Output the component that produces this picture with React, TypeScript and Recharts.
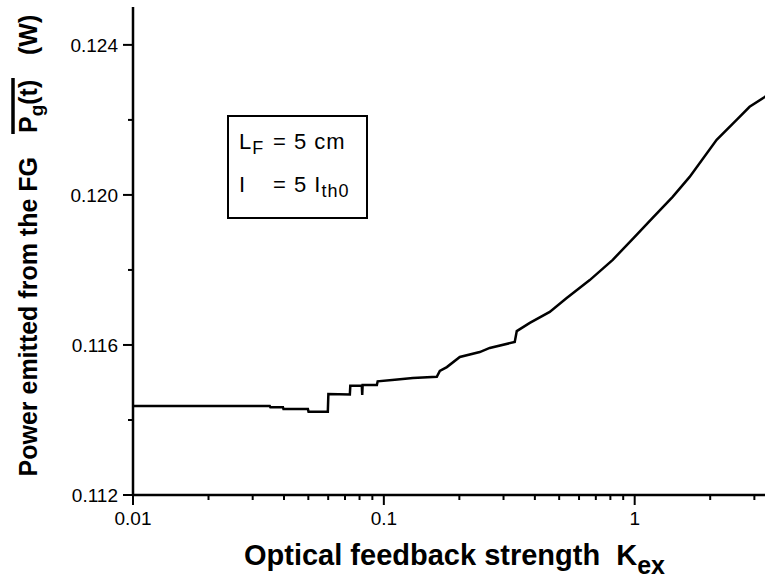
import { LineChart, Line, XAxis, YAxis, Label } from "recharts";

// feedback strength K_ex (log axis) and mean emitted power (W)
const kex = [
  0.01, 0.0351, 0.0353, 0.0396, 0.0398, 0.0498, 0.0501, 0.0598, 0.0601, 0.0732,
  0.0735, 0.0817, 0.082, 0.0823, 0.0938, 0.0945, 0.1106, 0.1305, 0.1626, 0.1672,
  0.1783, 0.2009, 0.2412, 0.2643, 0.3325, 0.3388, 0.3819, 0.4585, 0.5358, 0.662,
  0.8176, 1.0, 1.179, 1.417, 1.656, 2.122, 2.549, 2.871, 3.3, 3.4,
];
const power = [
  0.11437, 0.11437, 0.11434, 0.11434, 0.11429, 0.11429, 0.11422, 0.11422, 0.11469, 0.11468,
  0.11491, 0.11491, 0.11467, 0.11493, 0.11493, 0.11503, 0.11507, 0.11512, 0.11515, 0.11531,
  0.11541, 0.11568, 0.11581, 0.11592, 0.11608, 0.11637, 0.11659, 0.11688, 0.11725, 0.11773,
  0.11827, 0.11888, 0.11939, 0.11995, 0.12048, 0.12147, 0.122, 0.12235, 0.12261, 0.12268,
];

const xTicks = [
  0.01, 0.02, 0.03, 0.04, 0.05, 0.06, 0.07, 0.08, 0.09,
  0.1, 0.2, 0.3, 0.4, 0.5, 0.6, 0.7, 0.8, 0.9, 1, 2, 3,
];
const xMajor = [0.01, 0.1, 1];
const yTicks = [0.112, 0.114, 0.116, 0.118, 0.12, 0.122, 0.124];
const yMajor = [0.112, 0.116, 0.12, 0.124];

const data = kex.map((k, i) => ({ k, p: power[i] }));

const FONT = '"Liberation Sans", Arial, Helvetica, sans-serif';

function BottomTick(props: any) {
  const { x, y, payload } = props;
  const major = xMajor.includes(payload.value);
  return (
    <g>
      <line x1={x} x2={x} y1={y} y2={y + (major ? 10 : 5)} stroke="#000" strokeWidth={2} />
      {major && (
        <text x={x} y={y + 30} textAnchor="middle" fontSize={19} fontFamily={FONT} fill="#000">
          {String(payload.value)}
        </text>
      )}
    </g>
  );
}

function TopTick(props: any) {
  const { x, y, payload } = props;
  const major = xMajor.includes(payload.value);
  return <line x1={x} x2={x} y1={y} y2={y + (major ? 10 : 5)} stroke="#000" strokeWidth={2} />;
}

function LeftTick(props: any) {
  const { x, y, payload } = props;
  const major = yMajor.includes(payload.value);
  return (
    <g>
      <line x1={x - (major ? 10 : 5)} x2={x} y1={y} y2={y} stroke="#000" strokeWidth={2} />
      {major && (
        <text x={x - 15} y={y + 7} textAnchor="end" fontSize={19} fontFamily={FONT} fill="#000">
          {payload.value.toFixed(3)}
        </text>
      )}
    </g>
  );
}

function RightTick(props: any) {
  const { x, y, payload } = props;
  const major = yMajor.includes(payload.value);
  return <line x1={x - (major ? 10 : 5)} x2={x} y1={y} y2={y} stroke="#000" strokeWidth={2} />;
}

function XTitle(props: any) {
  const vb = props.viewBox;
  return (
    <text
      x={vb.x + vb.width / 2 + 4}
      y={vb.y + 70}
      textAnchor="middle"
      fontSize={29}
      fontWeight="bold"
      fontFamily={FONT}
      fill="#000"
      style={{ whiteSpace: "pre" }}
    >
      {"Optical feedback strength  K"}
      <tspan fontSize={25} dy={9}>ex</tspan>
    </text>
  );
}

function YTitle(props: any) {
  const vb = props.viewBox;
  const cx = vb.x + 37;
  const cy = vb.y + vb.height / 2;
  const common = {
    y: cy,
    fontSize: 25,
    fontWeight: "bold",
    fontFamily: FONT,
    fill: "#000",
  };
  return (
    <g transform={`rotate(-90 ${cx} ${cy})`}>
      <text {...common} x={cx + 94} textAnchor="end">
        Power emitted from the FG
      </text>
      <text {...common} x={cx + 118} textAnchor="start">
        P<tspan fontSize={19} dy={6}>g</tspan>
        <tspan dy={-6}>(t)</tspan>
      </text>
      <line x1={cx + 117} x2={cx + 173} y1={cy - 24} y2={cy - 24} stroke="#000" strokeWidth={3.5} />
      <text {...common} x={cx + 196} textAnchor="start">
        (W)
      </text>
    </g>
  );
}

export default function App() {
  return (
    <div
      style={{
        position: "fixed",
        left: 0,
        top: 0,
        width: 765,
        height: 581,
        overflow: "hidden",
        background: "#fff",
        fontFamily: FONT,
      }}
    >
      <LineChart width={790} height={581} data={data} margin={{ top: 7, right: 22, bottom: 0, left: 0 }}>
        <XAxis
          xAxisId="bottom"
          dataKey="k"
          type="number"
          scale="log"
          domain={[0.01, 3.4]}
          allowDataOverflow
          ticks={xTicks}
          interval={0}
          height={86}
          tickSize={0}
          tickMargin={0}
          tick={<BottomTick />}
          axisLine={{ stroke: "#000", strokeWidth: 2.5 }}
        >
          <Label content={<XTitle />} />
        </XAxis>
        <XAxis
          xAxisId="top"
          orientation="top"
          dataKey="k"
          type="number"
          scale="log"
          domain={[0.01, 3.4]}
          allowDataOverflow
          ticks={xTicks}
          interval={0}
          height={0}
          tickSize={0}
          tickMargin={0}
          tick={<TopTick />}
          axisLine={{ stroke: "#000", strokeWidth: 2.5 }}
        />
        <YAxis
          yAxisId="left"
          type="number"
          domain={[0.112, 0.12501]}
          allowDataOverflow
          ticks={yTicks}
          interval={0}
          width={133}
          tickSize={0}
          tickMargin={0}
          tick={<LeftTick />}
          axisLine={{ stroke: "#000", strokeWidth: 2.5 }}
        >
          <Label content={<YTitle />} />
        </YAxis>
        <YAxis
          yAxisId="right"
          orientation="right"
          type="number"
          domain={[0.112, 0.12501]}
          allowDataOverflow
          ticks={yTicks}
          interval={0}
          width={0}
          tickSize={0}
          tickMargin={0}
          tick={<RightTick />}
          axisLine={{ stroke: "#000", strokeWidth: 2.5 }}
        />
        <Line
          xAxisId="bottom"
          yAxisId="left"
          type="linear"
          dataKey="p"
          stroke="#000"
          strokeWidth={2.5}
          dot={false}
          isAnimationActive={false}
        />
      </LineChart>
      <div
        style={{
          position: "absolute",
          left: 227,
          top: 115,
          width: 141,
          height: 104,
          border: "2px solid #000",
          boxSizing: "border-box",
          fontSize: 22,
          letterSpacing: 1,
          color: "#000",
          lineHeight: 1,
        }}
      >
        <div style={{ position: "absolute", left: 10, top: 14, whiteSpace: "nowrap" }}>
          <span style={{ display: "inline-block", width: 34 }}>
            L<sub style={{ fontSize: 18 }}>F</sub>
          </span>
          = 5 cm
        </div>
        <div style={{ position: "absolute", left: 10, top: 57, whiteSpace: "nowrap" }}>
          <span style={{ display: "inline-block", width: 34 }}>I</span>
          = 5 I<sub style={{ fontSize: 18 }}>th0</sub>
        </div>
      </div>
    </div>
  );
}
